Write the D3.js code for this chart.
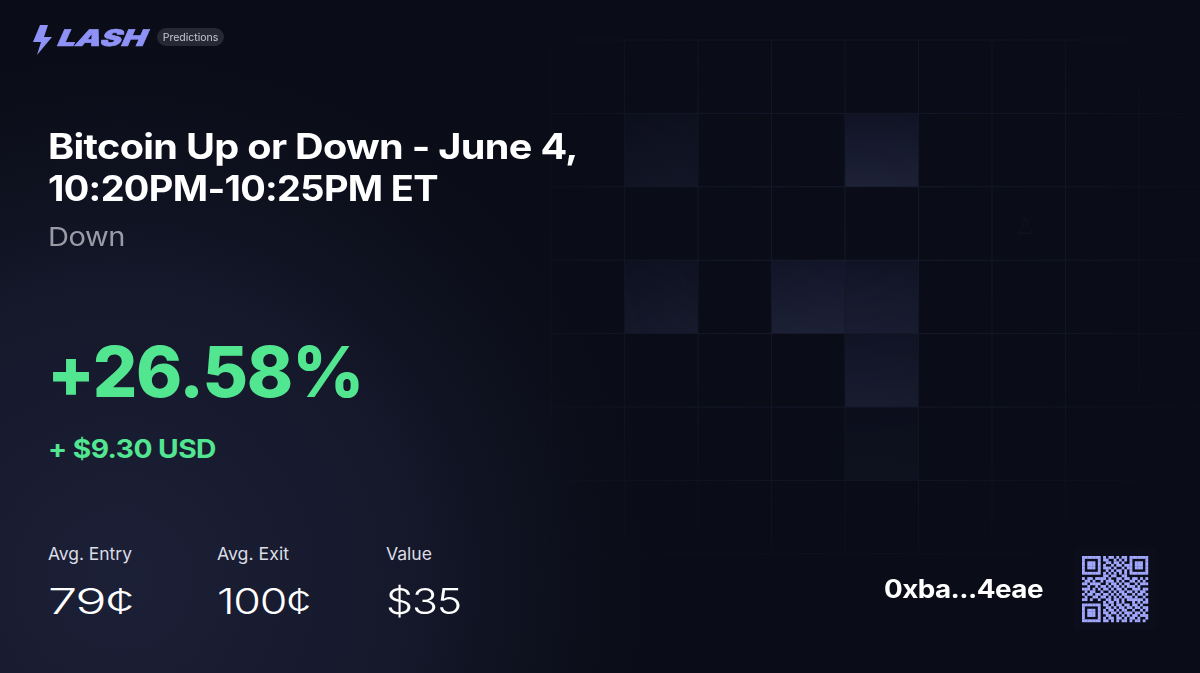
<!DOCTYPE html>
<html><head><meta charset="utf-8">
<script src="https://cdn.jsdelivr.net/npm/d3@7"></script>
<style>html,body{margin:0;padding:0;background:#0a0c17;overflow:hidden}svg{display:block}</style>
</head><body>
<script>
// ---- data ----
const brand = "LASH";
const tag = "Predictions";
const titleLines = ["Bitcoin Up or Down - June 4,", "10:20PM-10:25PM ET"];
const outcome = "Down";
const pnlPct = "+26.58%";
const pnlUsd = "+ $9.30 USD";
const statLabels = ["Avg. Entry", "Avg. Exit", "Value"];
const statValues = ["79¢", "100¢", "$35"];
const wallet = "0xba...4eae";
// highlighted grid cells: [col, row, intensity]
const highlightCells = [[1,1,0.4],[4,1,0.75],[1,3,0.55],[3,3,0.7],[4,3,0.55],[4,4,0.6],[4,5,0.25]];
const qrRows = [
"1111111010110101101111111",
"1000001011001010101000001",
"1011101001101101001011101",
"1011101010010110111011101",
"1011101011101001011011101",
"1000001001010110101000001",
"1111111010101010101111111",
"0000000011011001100000000",
"1011011110100110110110101",
"0110100101110101001101010",
"1101111001011010110010111",
"0010010110101101011101000",
"1110101011010110100111011",
"0101100100101011011010110",
"1011011011010101100101101",
"0100110110101010111010010",
"1101001001101101011111101",
"0000000010110101000101011",
"1111111011010110110110100",
"1000001001101011011011011",
"1011101010110101100100101",
"1011101011011010111011010",
"1011101001100101010110111",
"1000001010110110101101001",
"1111111011010101101011010"
];

const W = 1200, H = 673;
const svg = d3.select("body").append("svg").attr("width", W).attr("height", H);
const defs = svg.append("defs");

// background
const glow = defs.append("radialGradient").attr("id","glow")
  .attr("gradientUnits","userSpaceOnUse").attr("cx",120).attr("cy",580).attr("r",600);
glow.append("stop").attr("offset",0).attr("stop-color","#1c2037");
glow.append("stop").attr("offset",0.5).attr("stop-color","#15182a");
glow.append("stop").attr("offset",1).attr("stop-color","#0a0c17").attr("stop-opacity",0);
svg.append("rect").attr("width",W).attr("height",H).attr("fill","#0a0c17");
svg.append("rect").attr("width",W).attr("height",H).attr("fill","url(#glow)");

// grid
const gx = d3.scaleLinear().domain([0,1]).range([551, 624.5]);
const gy = d3.scaleLinear().domain([0,1]).range([40, 113.4]);
const fade = defs.append("radialGradient").attr("id","fade")
  .attr("gradientUnits","userSpaceOnUse").attr("cx",850).attr("cy",240).attr("r",430);
fade.append("stop").attr("offset",0).attr("stop-color","#fff").attr("stop-opacity",1);
fade.append("stop").attr("offset",0.55).attr("stop-color","#fff").attr("stop-opacity",0.6);
fade.append("stop").attr("offset",1).attr("stop-color","#fff").attr("stop-opacity",0);
defs.append("mask").attr("id","gmask").append("rect").attr("width",W).attr("height",H).attr("fill","url(#fade)");
const cellGrad = defs.append("linearGradient").attr("id","cellg").attr("x1",0).attr("y1",0).attr("x2",0).attr("y2",1);
cellGrad.append("stop").attr("offset",0).attr("stop-color","#131629");
cellGrad.append("stop").attr("offset",1).attr("stop-color","#20253c");
const grid = svg.append("g").attr("mask","url(#gmask)");
grid.selectAll("rect.hc").data(highlightCells).join("rect").attr("class","hc")
  .attr("x",d=>gx(d[0])).attr("y",d=>gy(d[1]))
  .attr("width",gx(1)-gx(0)).attr("height",gy(1)-gy(0))
  .attr("fill","url(#cellg)").attr("opacity",d=>Math.min(1,d[2]*1.5));
grid.selectAll("line.v").data(d3.range(0,10)).join("line").attr("class","v")
  .attr("x1",d=>gx(d)).attr("x2",d=>gx(d)).attr("y1",gy(0)).attr("y2",gy(7))
  .attr("stroke","#171a2b").attr("stroke-width",1);
grid.selectAll("line.h").data(d3.range(0,8)).join("line").attr("class","h")
  .attr("y1",d=>gy(d)).attr("y2",d=>gy(d)).attr("x1",gx(0)).attr("x2",gx(9))
  .attr("stroke","#1a1d30").attr("stroke-width",1);
// faint icon
svg.append("text").attr("x",1025).attr("y",234).attr("text-anchor","middle")
  .attr("font-family","DejaVu Sans").attr("font-size",24).attr("fill","#0f1220").text("♙");

// logo
const logo = svg.append("g");
logo.append("path").attr("d","M40,25 L48,25 L44,37 L52,37 L37,55 L41,42 L33,42 Z").attr("fill","#8e92f6");
logo.append("text").attr("x",58).attr("y",46).attr("font-family","Inter, 'DejaVu Sans'")
  .attr("font-weight",900).attr("font-style","italic").attr("font-size",23)
  .attr("textLength",88).attr("lengthAdjust","spacingAndGlyphs")
  .attr("stroke","#8e92f6").attr("stroke-width",0.6)
  .attr("transform","skewX(-12) translate(9,0)").attr("fill","#8e92f6").text(brand);
logo.append("rect").attr("x",157).attr("y",28).attr("width",67).attr("height",18).attr("rx",9).attr("fill","#262834");
logo.append("text").attr("x",190.5).attr("y",40.5).attr("text-anchor","middle")
  .attr("font-family","Inter").attr("font-size",10.5).attr("fill","#c6c7d0").text(tag);

const F = "Inter, 'Liberation Sans', sans-serif";
// stretch text horizontally to the reference width
function fit(sel, w){
  const n = sel.node(); const x = +sel.attr("x");
  const l = n.getComputedTextLength(); const k = w / l;
  sel.attr("transform", `translate(${x},0) scale(${k.toFixed(4)},1) translate(${-x},0)`);
}

// title
svg.selectAll("text.title").data(titleLines).join("text").attr("class","title")
  .attr("x",48).attr("y",(d,i)=>159+i*42).attr("font-family",F).attr("font-weight",700)
  .attr("font-size",35).attr("letter-spacing",-0.6).attr("fill","#ffffff").text(d=>d)
  .each(function(d,i){ fit(d3.select(this), i===0?530:390); });
fit(svg.append("text").attr("x",48).attr("y",246).attr("font-family",F).attr("font-size",26)
  .attr("letter-spacing",-0.4).attr("fill","#9b9ba8").text(outcome), 77);

fit(svg.append("text").attr("x",47).attr("y",397).attr("font-family",F).attr("font-weight",800)
  .attr("font-size",70).attr("letter-spacing",-1.2).attr("fill","#52e691").text(pnlPct), 316);
fit(svg.append("text").attr("x",48).attr("y",458).attr("font-family",F).attr("font-weight",700)
  .attr("font-size",26).attr("letter-spacing",-0.5).attr("fill","#52e691").text(pnlUsd), 168);

const sx = d3.scalePoint().domain(statLabels).range([48, 386]);
const labW = [84, 72, 46];
const statW = [85, 93, 75];
svg.selectAll("text.sl").data(statLabels).join("text").attr("class","sl")
  .attr("x",d=>sx(d)).attr("y",560).attr("font-family",F).attr("font-size",17)
  .attr("fill","#dcdde5").text(d=>d)
  .each(function(d,i){ fit(d3.select(this), labW[i]); });
svg.selectAll("text.sv").data(statValues).join("text").attr("class","sv")
  .attr("x",(d,i)=>sx(statLabels[i])).attr("y",614).attr("font-family",F).attr("font-size",36)
  .attr("font-weight",300).attr("letter-spacing",-1).attr("fill","#ffffff").text(d=>d)
  .each(function(d,i){ fit(d3.select(this), statW[i]); });

fit(svg.append("text").attr("x",884).attr("y",598).attr("font-family",F).attr("font-weight",700)
  .attr("font-size",25).attr("letter-spacing",-0.5).attr("fill","#ffffff").text(wallet), 159);

// QR
const qn = qrRows.length;
const qx = d3.scaleLinear().domain([0,qn]).range([1082,1148]);
const qy = d3.scaleLinear().domain([0,qn]).range([556,622]);
svg.append("rect").attr("x",1074).attr("y",548).attr("width",82).attr("height",82).attr("fill","#0c0e1c");
const cells = [];
qrRows.forEach((r,i)=>r.split("").forEach((c,j)=>{ if(c==="1") cells.push([j,i]); }));
svg.append("g").selectAll("rect").data(cells).join("rect")
  .attr("x",d=>qx(d[0])).attr("y",d=>qy(d[1]))
  .attr("width",qx(1)-qx(0)+0.2).attr("height",qy(1)-qy(0)+0.2).attr("fill","#a3a9ff");
</script>
</body></html>
